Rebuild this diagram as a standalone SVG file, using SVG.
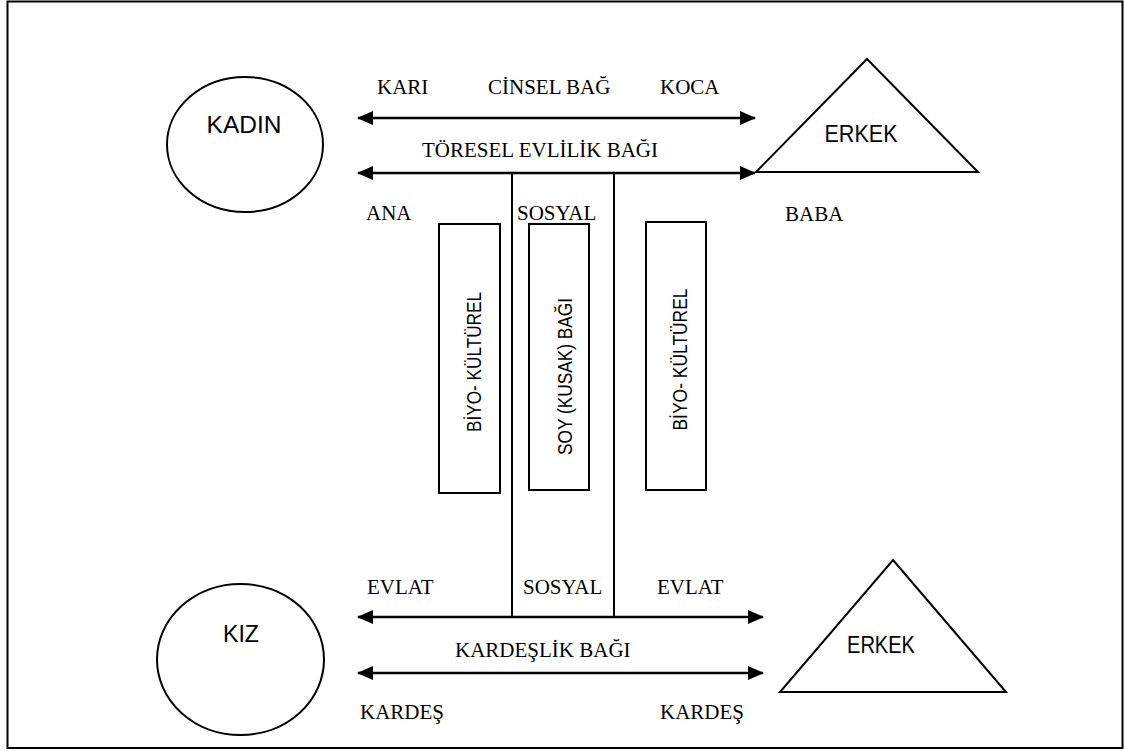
<svg xmlns="http://www.w3.org/2000/svg" width="1125" height="751" viewBox="0 0 1125 751">
<style>
.sh{fill:#fff;stroke:#000;stroke-width:2}
.ln{stroke:#000;stroke-width:2;fill:none}
.ar{stroke:#000;stroke-width:2.5;fill:none;marker-start:url(#ah);marker-end:url(#ah)}
.t{font-family:"Liberation Serif","Times New Roman",serif;font-size:21px;fill:#000}
.s{font-family:"Liberation Sans",Arial,sans-serif;fill:#000}
</style>
<defs>
<marker id="ah" viewBox="0 0 16 14" refX="15" refY="7" markerWidth="16" markerHeight="14" markerUnits="userSpaceOnUse" orient="auto-start-reverse">
<path d="M0,0 L16,7 L0,14 z" fill="#000"/>
</marker>
</defs>
<rect x="0" y="0" width="1125" height="751" fill="#fff"/>
<rect x="7.5" y="1.5" width="1115" height="746.5" fill="none" stroke="#000" stroke-width="2"/>

<g id="kadin">
<ellipse class="sh" cx="245" cy="144.5" rx="78" ry="67.5"/>
<text class="s" x="244" y="133" font-size="24.5" text-anchor="middle">KADIN</text>
</g>
<g id="erkek-top">
<polygon class="sh" points="867,59 978,172 756,172"/>
<text class="s" x="861" y="142" font-size="23" text-anchor="middle" textLength="73" lengthAdjust="spacingAndGlyphs">ERKEK</text>
</g>
<g id="kiz">
<ellipse class="sh" cx="240.5" cy="659.5" rx="83.5" ry="75.5"/>
<text class="s" x="241" y="642" font-size="24" text-anchor="middle" textLength="36" lengthAdjust="spacingAndGlyphs">KIZ</text>
</g>
<g id="erkek-bottom">
<polygon class="sh" points="893,560 1006,692 780,692"/>
<text class="s" x="881" y="653" font-size="23" text-anchor="middle" textLength="68" lengthAdjust="spacingAndGlyphs">ERKEK</text>
</g>

<g id="biyo-left">
<rect class="sh" x="439" y="224" width="61" height="269"/>
<text class="s" font-size="20" text-anchor="middle" textLength="140" lengthAdjust="spacingAndGlyphs" transform="translate(481,362) rotate(-90)">BİYO- KÜLTÜREL</text>
</g>
<g id="soy">
<rect class="sh" x="529" y="224" width="60" height="266"/>
<text class="s" font-size="20" text-anchor="middle" textLength="157" lengthAdjust="spacingAndGlyphs" transform="translate(572,376.5) rotate(-90)">SOY (KUSAK) BAĞI</text>
</g>
<g id="biyo-right">
<rect class="sh" x="646" y="222" width="60" height="268"/>
<text class="s" font-size="20" text-anchor="middle" textLength="142" lengthAdjust="spacingAndGlyphs" transform="translate(687,359.5) rotate(-90)">BİYO- KÜLTÜREL</text>
</g>

<g id="connectors">
<line class="ar" x1="358" y1="118" x2="755" y2="118"/>
<line class="ar" x1="358" y1="173" x2="755" y2="173"/>
<line class="ar" x1="358" y1="617" x2="763" y2="617"/>
<line class="ar" x1="358" y1="673" x2="763" y2="673"/>
<line class="ln" x1="512" y1="173" x2="512" y2="617"/>
<line class="ln" x1="614" y1="173" x2="614" y2="617"/>
</g>

<g id="labels">
<text class="t" x="377" y="94">KARI</text>
<text class="t" x="488" y="94">CİNSEL BAĞ</text>
<text class="t" x="660" y="94">KOCA</text>
<text class="t" x="422" y="157">TÖRESEL EVLİLİK BAĞI</text>
<text class="t" x="366" y="220">ANA</text>
<text class="t" x="517" y="220">SOSYAL</text>
<text class="t" x="785" y="221">BABA</text>
<text class="t" x="367" y="594">EVLAT</text>
<text class="t" x="523" y="594">SOSYAL</text>
<text class="t" x="657" y="594">EVLAT</text>
<text class="t" x="455" y="657">KARDEŞLİK BAĞI</text>
<text class="t" x="360" y="719">KARDEŞ</text>
<text class="t" x="660" y="719">KARDEŞ</text>
</g>
</svg>
